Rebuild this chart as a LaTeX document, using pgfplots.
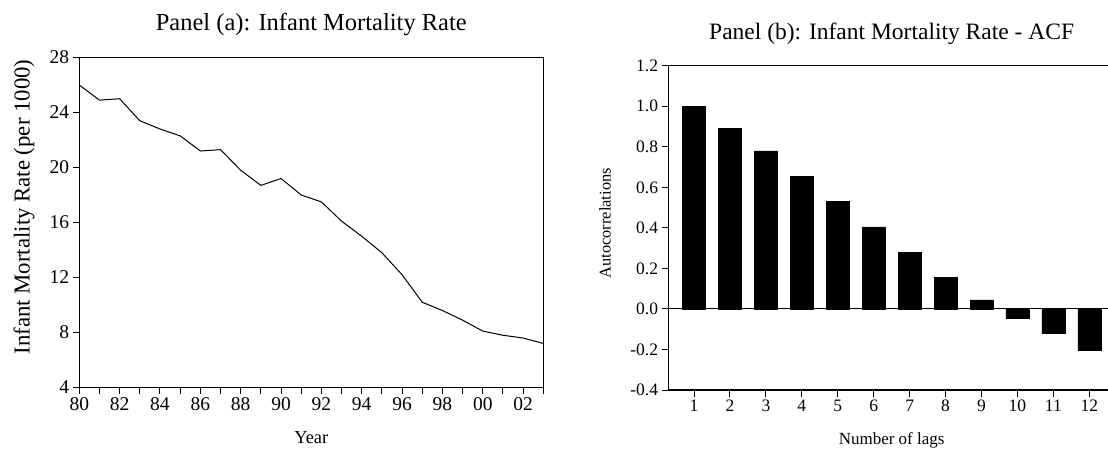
\documentclass[border=0pt]{standalone}
\usepackage{fontspec}
\setmainfont{Liberation Serif}
\usepackage{pgfplots}
\pgfplotsset{compat=1.18}
\begin{document}
\begin{tikzpicture}[x=1pt,y=1pt]
\useasboundingbox (0,0) rectangle (1108,448);
% Panel (a)
\begin{axis}[
  at={(79.3pt,60.5pt)}, anchor=south west,
  scale only axis, width=464pt, height=330pt,
  xmin=1980, xmax=2003, ymin=4, ymax=28,
  axis line style={line width=1.2pt},
  tick align=outside, tick pos=left,
  major tick length=6.7pt, minor tick length=6.7pt,
  every tick/.style={black, line width=1pt},
  xtick={1980,1982,...,2002},
  minor xtick={1981,1983,...,2003},
  xticklabels={80,82,84,86,88,90,92,94,96,98,00,02},
  ytick={4,8,...,28},
  /pgf/number format/assume math mode=true,
  tick label style={font=\fontsize{19.5}{20}\selectfont},
  title={Panel (a): Infant Mortality Rate},
  title style={at={(axis description cs:0.5,1)}, anchor=base, yshift=20.6pt,
    font=\fontsize{24.5}{26}\selectfont},
  xlabel={Year},
  xlabel style={at={(axis description cs:0.5,0)}, anchor=base, yshift=-55.5pt,
    inner sep=1pt, font=\fontsize{18.4}{20}\selectfont},
  ylabel={Infant Mortality Rate (per 1000)},
  ylabel style={at={(axis description cs:-0.119,0.547)}, anchor=center, rotate=0,
    font=\fontsize{22.8}{24}\selectfont},
]
\addplot[black, line width=1pt] coordinates {
(1980,26.0) (1981,24.9) (1982,25.0) (1983,23.4) (1984,22.8) (1985,22.3)
(1986,21.2) (1987,21.3) (1988,19.8) (1989,18.7) (1990,19.2) (1991,18.0)
(1992,17.5) (1993,16.1) (1994,15.0) (1995,13.8) (1996,12.2) (1997,10.2)
(1998,9.6) (1999,8.9) (2000,8.1) (2001,7.8) (2002,7.6) (2003,7.2)
};
\end{axis}
% Panel (b)
\begin{axis}[
  at={(668.3pt,58pt)}, anchor=south west,
  scale only axis, width=446.7pt, height=324.3pt,
  xmin=0.285, xmax=12.715, ymin=-0.4, ymax=1.2,
  axis line style={line width=1.2pt},
  tick align=outside, tick pos=left,
  major tick length=6.7pt,
  every tick/.style={black, line width=1pt},
  xtick={1,...,12},
  ytick={-0.4,-0.2,0,0.2,0.4,0.6,0.8,1.0,1.2},
  yticklabels={-0.4,-0.2,0.0,0.2,0.4,0.6,0.8,1.0,1.2},
  /pgf/number format/assume math mode=true,
  tick label style={font=\fontsize{17.5}{19}\selectfont},
  title={Panel (b): Infant Mortality Rate - ACF},
  title style={at={(axis description cs:0.5,1)}, anchor=base, yshift=20.4pt,
    font=\fontsize{23.5}{25}\selectfont},
  xlabel={Number of lags},
  xlabel style={at={(axis description cs:0.5,0)}, anchor=base, yshift=-54.6pt,
    inner sep=1pt, font=\fontsize{17}{19}\selectfont},
  ylabel={Autocorrelations},
  ylabel style={at={(axis description cs:-0.1417,0.514)}, anchor=center,
    font=\fontsize{16.4}{18}\selectfont},
]
\addplot[ybar, bar width=0.64, fill=black, draw=black, line width=0.3pt] coordinates {
(1,1.000) (2,0.891) (3,0.780) (4,0.655) (5,0.530) (6,0.405)
(7,0.279) (8,0.156) (9,0.045) (10,-0.045) (11,-0.121) (12,-0.203)
};
\addplot[black, line width=1pt] coordinates {(0.285,0) (12.715,0)};
\end{axis}
\end{tikzpicture}
\end{document}
